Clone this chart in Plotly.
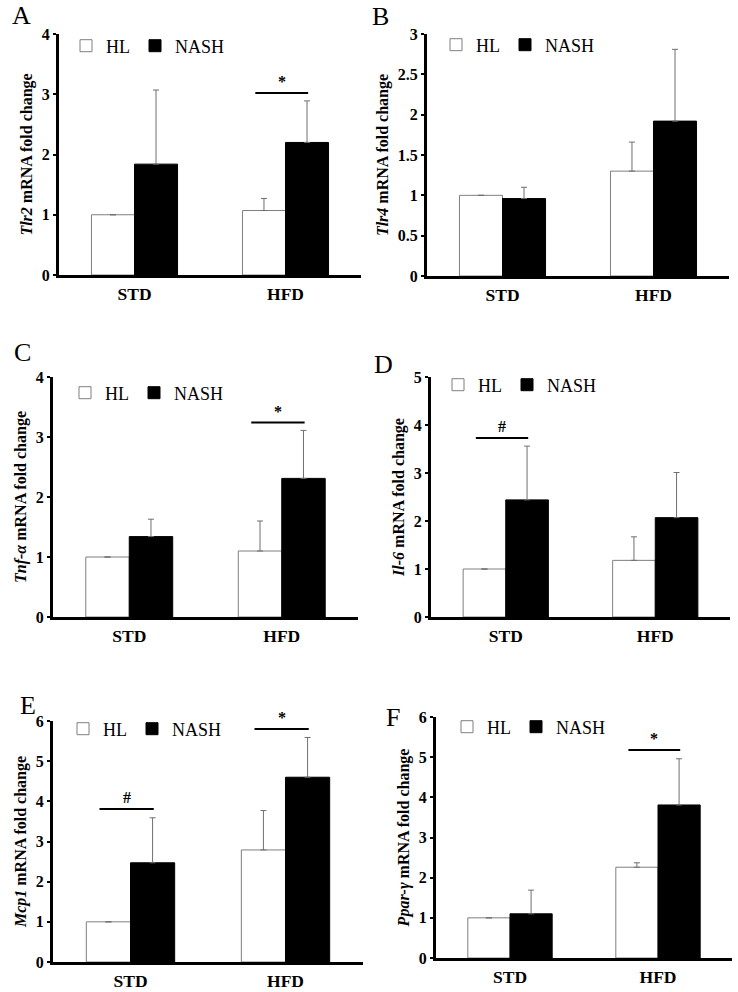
import numpy as np
import plotly.graph_objects as go

# ---------------- data ----------------
categories = ["STD", "HFD"]
series_names = ["HL", "NASH"]
panel_letters = ["A", "B", "C", "D", "E", "F"]
gene_labels = ["Tlr2", "Tlr4", "Tnf-α", "Il-6", "Mcp1", "Ppar-γ"]
y_max = [4, 3, 4, 5, 6, 6]
y_dtick = [1, 0.5, 1, 1, 1, 1]

hl_A = [1.00, 1.07]
hl_err_A = [None, 0.20]
nash_A = [1.84, 2.20]
nash_err_A = [1.23, 0.69]

hl_B = [1.00, 1.30]
hl_err_B = [None, 0.36]
nash_B = [0.96, 1.92]
nash_err_B = [0.14, 0.89]

hl_C = [1.00, 1.10]
hl_err_C = [None, 0.50]
nash_C = [1.34, 2.31]
nash_err_C = [0.29, 0.80]

hl_D = [1.00, 1.18]
hl_err_D = [None, 0.49]
nash_D = [2.44, 2.07]
nash_err_D = [1.12, 0.94]

hl_E = [1.00, 2.79]
hl_err_E = [None, 0.98]
nash_E = [2.47, 4.60]
nash_err_E = [1.12, 0.99]

hl_F = [1.00, 2.26]
hl_err_F = [None, 0.11]
nash_F = [1.10, 3.81]
nash_err_F = [0.59, 1.15]

hl_values = [hl_A, hl_B, hl_C, hl_D, hl_E, hl_F]
hl_errors = [hl_err_A, hl_err_B, hl_err_C, hl_err_D, hl_err_E, hl_err_F]
nash_values = [nash_A, nash_B, nash_C, nash_D, nash_E, nash_F]
nash_errors = [nash_err_A, nash_err_B, nash_err_C, nash_err_D, nash_err_E, nash_err_F]

# significance marks: (panel index, category index, bar level, symbol)
sig_panel = [0, 2, 3, 4, 4, 5]
sig_category = [1, 1, 0, 0, 1, 1]
sig_level = [3.02, 3.24, 3.73, 3.81, 5.80, 5.18]
sig_symbol = ["*", "*", "#", "#", "*", "*"]

# ---------------- layout geometry (pixels) ----------------
W, H = 738, 992
FONT = "Liberation Serif, Times New Roman, serif"
panel_box = [  # x0, x1, ytop, ybottom
    (59, 361, 34, 275),
    (427, 729, 34, 276),
    (53, 358, 377, 617),
    (431, 730, 377, 617),
    (53, 363, 721, 962),
    (436, 732, 717, 958),
]
letter_pos = [(21, 16), (380, 17), (22, 352), (383, 364), (28, 705), (393, 717)]
legend_pos = [(86, 46), (456, 45), (85, 393), (458, 385), (83, 729), (467, 727)]


def px(x):
    return x / W


def py(y):
    return 1 - y / H


def err_array(vals):
    # None -> NaN so that no error bar is drawn for that bar
    return np.array([np.nan if v is None else v for v in vals], dtype=float)


fig = go.Figure()
layout = dict(
    width=W, height=H, autosize=False,
    margin=dict(l=0, r=0, t=0, b=0, pad=0, autoexpand=False),
    paper_bgcolor="white", plot_bgcolor="white",
    font=dict(family=FONT, color="black"),
    barmode="group", bargap=0.43, bargroupgap=0,
    annotations=[], shapes=[],
)

for i in range(6):
    sfx = "" if i == 0 else str(i + 1)
    xa, ya = "x" + sfx, "y" + sfx
    lg = "legend" + sfx
    fig.add_trace(go.Bar(
        x=categories, y=hl_values[i], name=series_names[0],
        marker=dict(color="white", line=dict(color="#7f7f7f", width=1)),
        error_y=dict(type="data", array=err_array(hl_errors[i]), arrayminus=np.zeros(2),
                     symmetric=False, color="#6f6f6f", thickness=1, width=3),
        xaxis=xa, yaxis=ya, legend=lg, offsetgroup="hl",
    ))
    fig.add_trace(go.Bar(
        x=categories, y=nash_values[i], name=series_names[1],
        marker=dict(color="black", line=dict(color="black", width=1)),
        error_y=dict(type="data", array=err_array(nash_errors[i]), arrayminus=np.zeros(2),
                     symmetric=False, color="#6f6f6f", thickness=1, width=3),
        xaxis=xa, yaxis=ya, legend=lg, offsetgroup="nash",
    ))
    x0, x1, yt, yb = panel_box[i]
    layout["xaxis" + sfx] = dict(
        domain=[px(x0), px(x1)], anchor=ya, type="category",
        range=[-0.5, 1.5], showline=True, linecolor="black", linewidth=3,
        ticks="outside", ticklen=1, tickcolor="rgba(0,0,0,0)",
        tickfont=dict(family=FONT, size=17.5, weight="bold", color="black"),
        showgrid=False, zeroline=False, fixedrange=True, automargin=False,
    )
    layout["yaxis" + sfx] = dict(
        domain=[py(yb), py(yt)], anchor=xa,
        range=[0, y_max[i]], dtick=y_dtick[i], tick0=0,
        showline=True, linecolor="black", linewidth=3,
        ticks="outside", ticklen=3, tickwidth=2, tickcolor="black",
        tickfont=dict(family=FONT, size=16, weight="bold", color="black"),
        showgrid=False, zeroline=False, fixedrange=True, automargin=False,
        title=dict(text="<b><i>%s</i> mRNA fold change</b>" % gene_labels[i],
                   font=dict(family=FONT, size=16, color="black"), standoff=6),
    )
    lx, ly = legend_pos[i]
    layout[lg] = dict(
        x=px(lx - 20), y=py(ly), xanchor="left", yanchor="middle",
        orientation="h", bgcolor="rgba(0,0,0,0)",
        font=dict(family=FONT, size=18, color="black"),
        itemwidth=30, tracegroupgap=0,
    )
    ax, ay = letter_pos[i]
    layout["annotations"].append(dict(
        text=panel_letters[i], x=px(ax), y=py(ay), xref="paper", yref="paper",
        showarrow=False, xanchor="center", yanchor="middle",
        font=dict(family=FONT, size=26, color="black"),
    ))

for k in range(len(sig_panel)):
    i = sig_panel[k]
    sfx = "" if i == 0 else str(i + 1)
    c = sig_category[k]
    layout["shapes"].append(dict(
        type="line", xref="x" + sfx, yref="y" + sfx,
        x0=c - 0.2, x1=c + 0.15, y0=sig_level[k], y1=sig_level[k],
        line=dict(color="black", width=2),
    ))
    layout["annotations"].append(dict(
        text="<b>%s</b>" % sig_symbol[k], xref="x" + sfx, yref="y" + sfx,
        x=c - 0.025, y=sig_level[k], yanchor="bottom", xanchor="center",
        showarrow=False, yshift=1,
        font=dict(family=FONT, size=16, color="black"),
    ))

fig.update_layout(**layout)
fig.write_html(
    "out.html",
    config={"displayModeBar": False},
    post_script="document.body.style.margin='0';document.body.style.overflow='hidden';",
)
